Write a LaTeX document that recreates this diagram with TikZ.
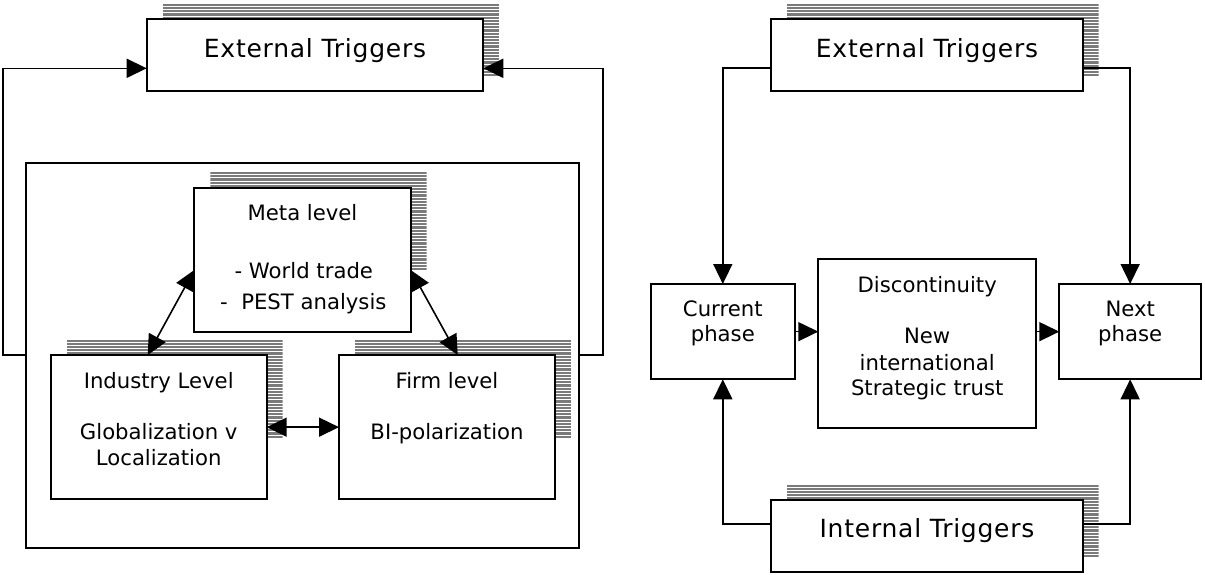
\documentclass[tikz,border=0pt]{standalone}
\usepackage{fontspec}
\setmainfont{DejaVu Sans}
\newfontfamily\titlefont[LetterSpace=3]{DejaVu Sans}
\usetikzlibrary{arrows.meta,calc,backgrounds}
\definecolor{stripegray}{HTML}{7A7A7A}
\tikzset{
  box/.style={draw, fill=white, line width=1pt, inner sep=0pt, outer sep=0pt, anchor=north west},
  frame/.style={draw, line width=1pt, inner sep=0pt, outer sep=0pt, anchor=north west},
  txt/.style={anchor=base, inner sep=0pt, font=\fontsize{10.6pt}{12pt}\selectfont},
  bigtxt/.style={anchor=base, inner sep=0pt, font=\titlefont\fontsize{12.5pt}{15pt}\selectfont},
  conn/.style={line width=0.8pt, -{Triangle[length=10pt,width=9.5pt]}},
  dbl/.style={line width=0.8pt, {Triangle[length=10pt,width=9.5pt]}-{Triangle[length=10pt,width=9.5pt]}},
  striped/.style={path picture={
    \foreach \k in {0,...,30}{
      \fill[stripegray] ($(path picture bounding box.north west)+(0,\k*3.2)$)
        rectangle ($(path picture bounding box.north east)+(0,\k*3.2+2.2)$);
    }}},
}
\begin{document}
\begin{tikzpicture}[x=0.5pt, y=-0.5pt]
  \useasboundingbox (0,0) rectangle (1205,574);
  \begin{scope}[on background layer]
    \fill[white] (0,0) rectangle (1205,574);
  \end{scope}

  % ---------- left diagram ----------
  \node[box, minimum width=168.3pt, minimum height=36pt] (extL) at (146.7,19.3) {};
  \node[frame, minimum width=276.65pt, minimum height=192.2pt] (outer) at (26,163.3) {};
  \node[box, minimum width=108.2pt, minimum height=72.1pt] (meta) at (194.3,187.5) {};
  \node[box, minimum width=108pt, minimum height=72.15pt] (ind) at (50.7,355) {};
  \node[box, minimum width=108pt, minimum height=72.15pt] (firm) at (339,355) {};

  % ---------- right diagram ----------
  \node[box, minimum width=155.85pt, minimum height=36pt] (extR) at (770.9,19.3) {};
  \node[box, minimum width=72pt, minimum height=47.65pt] (cur) at (650.8,284) {};
  \node[box, minimum width=108.85pt, minimum height=84.2pt] (disc) at (818.3,259.3) {};
  \node[box, minimum width=70.85pt, minimum height=47.65pt] (next) at (1059.3,284) {};
  \node[box, minimum width=155.85pt, minimum height=35.85pt] (intl) at (770.9,500) {};

  % striped drop shadows behind the boxes
  \begin{scope}[on background layer]
    \foreach \n in {extL,meta,ind,firm,extR,intl}{
      \path[striped] ([shift={(16,-15.5)}]\n.south west) rectangle ([shift={(16,-15.5)}]\n.north east);
    }
  \end{scope}

  % ---------- texts ----------
  \node[bigtxt] (extLt) at (315,57.3) {External Triggers};
  \node[txt] (metaT1) at (302.5,220.7) {Meta level};
  \node[txt] (metaT2) at (303.8,278) {- World trade};
  \node[txt] (metaT3) at (303.3,309) {-\ \ PEST analysis};
  \node[txt] (indT1) at (158.7,388) {Industry Level};
  \node[txt] (indT2) at (158.7,439.3) {Globalization v};
  \node[txt] (indT3) at (158.7,465.7) {Localization};
  \node[txt] (firmT1) at (447,388.3) {Firm level};
  \node[txt] (firmT2) at (447,439.3) {BI-polarization};

  \node[bigtxt] (extRt) at (927,57.3) {External Triggers};
  \node[bigtxt] (intlt) at (927,537.3) {Internal Triggers};
  \node[txt] (curT1) at (722.8,316) {Current};
  \node[txt] (curT2) at (722.8,341.7) {phase};
  \node[txt] (nextT1) at (1130.2,316) {Next};
  \node[txt] (nextT2) at (1130.2,341.7) {phase};
  \node[txt] (discT1) at (927.2,292.3) {Discontinuity};
  \node[txt] (discT2) at (927.2,343.3) {New};
  \node[txt] (discT3) at (927.2,370) {international};
  \node[txt] (discT4) at (927.2,395.7) {Strategic trust};

  % ---------- connectors ----------
  \draw[conn] (outer.west |- ind.north) -- ++(-23.3,0) |- ([yshift=-6.5pt]extL.west);
  \draw[conn] (outer.east |- ind.north) -- ++(23.4,0) |- ([yshift=-6.5pt]extL.east);
  \draw[dbl] ([yshift=-5.2pt]meta.west) -- ([xshift=-5.5pt]ind.north);
  \draw[dbl] ([yshift=-5.2pt]meta.east) -- ([xshift=5.35pt]firm.north);
  \draw[dbl] (ind.east) -- (firm.west);

  \draw[conn] ([yshift=-6.4pt]extR.west) -| (cur.north);
  \draw[conn] ([yshift=-6.4pt]extR.east) -| (next.north);
  \draw[conn] ([yshift=6pt]intl.west) -| (cur.south);
  \draw[conn] ([yshift=6pt]intl.east) -| (next.south);
  \draw[conn] (cur.east) -- (disc.west |- cur.east);
  \draw[conn] (disc.east |- next.west) -- (next.west);
\end{tikzpicture}
\end{document}
